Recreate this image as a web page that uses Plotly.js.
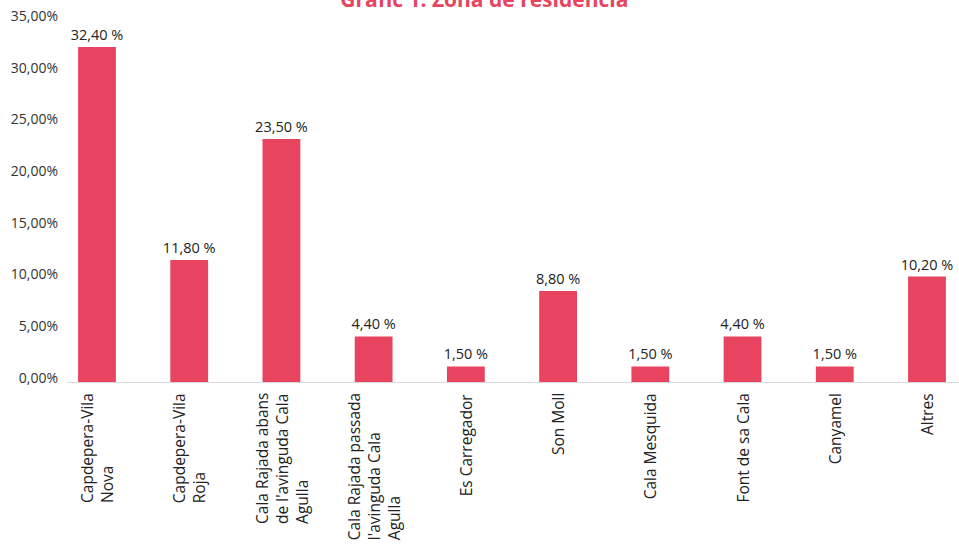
<!DOCTYPE html>
<html>
<head>
<meta charset="utf-8">
<script src="https://cdn.plot.ly/plotly-3.0.1.min.js"></script>
<style>html,body{margin:0;padding:0;background:#fff;}#chart{width:959px;height:544px;}</style>
</head>
<body>
<div id="chart"></div>
<script>
const categories = [
  "Capdepera-Vila<br>Nova",
  "Capdepera-Vila<br>Roja",
  "Cala Rajada abans<br>de l'avinguda Cala<br>Agulla",
  "Cala Rajada passada<br>l'avinguda Cala<br>Agulla",
  "Es Carregador",
  "Son Moll",
  "Cala Mesquida",
  "Font de sa Cala",
  "Canyamel",
  "Altres"
];
const values = [32.4, 11.8, 23.5, 4.4, 1.5, 8.8, 1.5, 4.4, 1.5, 10.2];
const valueLabels = ["32,40 %", "11,80 %", "23,50 %", "4,40 %", "1,50 %", "8,80 %", "1,50 %", "4,40 %", "1,50 %", "10,20 %"];
const yTickVals = [0, 5, 10, 15, 20, 25, 30, 35];
const yTickText = ["0,00%", "5,00%", "10,00%", "15,00%", "20,00%", "25,00%", "30,00%", "35,00%"];
const titleText = "Gràfic 1: Zona de residència";

const FONT = "'Open Sans', Lato, sans-serif";
const RED = "#e8445f";
const idx = categories.map((c, i) => i);

const trace = {
  type: "bar",
  x: idx,
  y: values,
  text: valueLabels,
  textposition: "outside",
  constraintext: "none",
  textfont: {family: FONT, size: 14.5, color: "#222"},
  cliponaxis: false,
  marker: {color: RED},
  width: 0.41,
  hoverinfo: "none"
};

const catAnnotations = categories.map((c, i) => ({
  x: i, xref: "x",
  y: 0, yref: "paper",
  yshift: -9,
  text: c,
  textangle: -90,
  align: "left",
  xanchor: "center", yanchor: "top",
  showarrow: false,
  font: {family: FONT, size: 15.5, color: "#222"}
}));

const layout = {
  width: 959, height: 544,
  margin: {l: 67, r: 0, t: 20, b: 162},
  paper_bgcolor: "#fff", plot_bgcolor: "#fff",
  font: {family: FONT, size: 14, color: "#333"},
  showlegend: false,
  title: {
    text: "<b>" + titleText + "</b>",
    font: {family: FONT, size: 21, color: RED},
    x: 0.505, xanchor: "center",
    yref: "container", y: 1.0, yanchor: "middle"
  },
  xaxis: {
    range: [-0.325, 9.347],
    showticklabels: false,
    showgrid: false, zeroline: false,
    showline: true, linecolor: "#d9d9d9", linewidth: 1,
    ticks: ""
  },
  yaxis: {
    range: [0, 35],
    tickmode: "array",
    tickvals: yTickVals,
    ticktext: yTickText,
    showgrid: false, zeroline: false, showline: false,
    ticks: "", ticklabelstandoff: 8, ticklabelshift: -4,
    tickfont: {family: FONT, size: 14, color: "#333"}
  },
  annotations: catAnnotations
};

Plotly.newPlot("chart", [trace], layout, {staticPlot: true, displayModeBar: false});
</script>
</body>
</html>
